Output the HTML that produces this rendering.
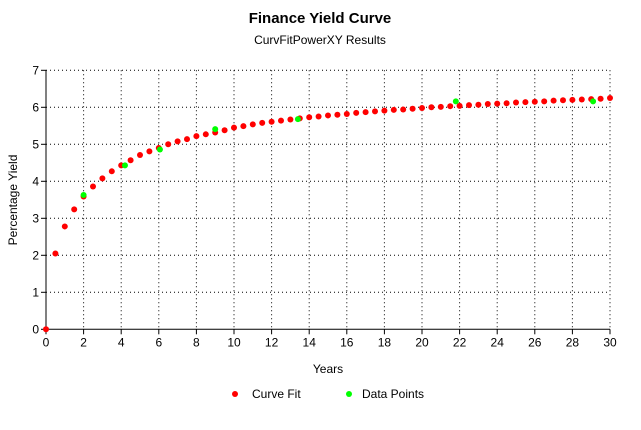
<!DOCTYPE html>
<html><head><meta charset="utf-8"><style>
body{margin:0;background:#fff;font-family:"Liberation Sans",sans-serif}
</style></head><body>
<svg id="chart" width="641" height="425" xmlns="http://www.w3.org/2000/svg" font-family="Liberation Sans, sans-serif">
<rect width="641" height="425" fill="#fff"/>
<text x="320" y="23" text-anchor="middle" font-size="15" font-weight="bold">Finance Yield Curve</text>
<text x="320" y="44" text-anchor="middle" font-size="12">CurvFitPowerXY Results</text>
<text transform="translate(17,200) rotate(-90)" text-anchor="middle" font-size="12">Percentage Yield</text>
<text x="328" y="373" text-anchor="middle" font-size="12">Years</text>
<g id="grid"></g><g id="axes"></g><g id="marks"></g>
<g>
<circle cx="235" cy="394" r="3" fill="#f00"/>
<text x="252" y="398" font-size="12">Curve Fit</text>
<circle cx="349" cy="394" r="3" fill="#0f0"/>
<text x="362" y="398" font-size="12">Data Points</text>
</g>
</svg>
<script>
const fitYears=[0,0.5,1,1.5,2,2.5,3,3.5,4,4.5,5,5.5,6,6.5,7,7.5,8,8.5,9,9.5,10,10.5,11,11.5,12,12.5,13,13.5,14,14.5,15,15.5,16,16.5,17,17.5,18,18.5,19,19.5,20,20.5,21,21.5,22,22.5,23,23.5,24,24.5,25,25.5,26,26.5,27,27.5,28,28.5,29,29.5,30];
const fitValues=[0,2.05,2.78,3.24,3.59,3.86,4.08,4.27,4.43,4.57,4.71,4.81,4.90,5.0,5.08,5.14,5.22,5.27,5.32,5.38,5.45,5.49,5.54,5.58,5.61,5.64,5.67,5.70,5.73,5.75,5.78,5.80,5.82,5.85,5.87,5.89,5.91,5.93,5.94,5.96,5.98,6.00,6.01,6.03,6.04,6.06,6.07,6.09,6.10,6.11,6.13,6.14,6.15,6.16,6.18,6.19,6.20,6.21,6.22,6.23,6.25];
const dataYears=[2,4.2,6.06,9,13.4,21.8,29.1];
const dataValues=[3.63,4.43,4.86,5.41,5.68,6.16,6.16];
const xTicks=[0,2,4,6,8,10,12,14,16,18,20,22,24,26,28,30];
const yTicks=[0,1,2,3,4,5,6,7];
const X0=46,X1=610,Y0=329.3,Y1=70.3;
const xs=v=>X0+(v/30)*(X1-X0);
const ys=v=>Y0-(v/7)*(Y0-Y1);
const NS="http://www.w3.org/2000/svg";
function mk(t,a,p){const e=document.createElementNS(NS,t);for(const k in a)e.setAttribute(k,a[k]);p.appendChild(e);return e;}
const grid=document.getElementById('grid'),axes=document.getElementById('axes'),marks=document.getElementById('marks');
xTicks.forEach(t=>{
 if(t>0){const l=mk('line',{x1:xs(t),x2:xs(t),y1:Y1,y2:Y0,stroke:'#000','stroke-dasharray':'1,3'},grid);
 
 }
 const tk=mk('line',{x1:xs(t),x2:xs(t),y1:Y0,y2:Y0+5,stroke:'#000'},axes);
 
 
 const tx=mk('text',{x:xs(t),y:Y0+17,'text-anchor':'middle','font-size':12},axes);tx.textContent=t;
 
 
});
yTicks.forEach(t=>{
 if(t>0){const l=mk('line',{x1:X0,x2:X1,y1:ys(t),y2:ys(t),stroke:'#000','stroke-dasharray':'1,3'},grid);
 
 }
 const tk=mk('line',{x1:X0-5,x2:X0,y1:ys(t),y2:ys(t),stroke:'#000'},axes);
 
 
 const tx=mk('text',{x:X0-7,y:ys(t)+4,'text-anchor':'end','font-size':12},axes);tx.textContent=t;
 
 
});
const xa=mk('line',{x1:X0,x2:X1,y1:Y0,y2:Y0,stroke:'#000'},axes);


const ya=mk('line',{x1:X0,x2:X0,y1:Y1,y2:Y0,stroke:'#000'},axes);


fitYears.forEach((yr,i)=>{
 const c=mk('circle',{cx:xs(yr),cy:ys(fitValues[i]),r:3,fill:'#f00'},marks);
 
 
});
dataYears.forEach((yr,i)=>{
 const c=mk('circle',{cx:xs(yr),cy:ys(dataValues[i]),r:3,fill:'#0f0'},marks);
 
 
});
</script>
</body></html>
